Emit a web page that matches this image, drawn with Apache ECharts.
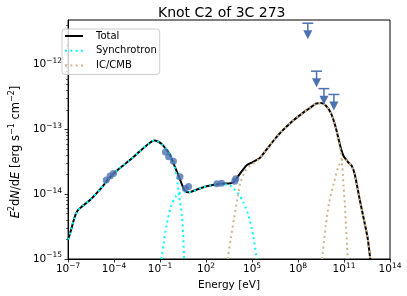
<!DOCTYPE html>
<html><head><meta charset="utf-8">
<script src="https://cdn.jsdelivr.net/npm/echarts@6/dist/echarts.min.js"></script>
<style>html,body{margin:0;padding:0;background:#fff}#c{width:407px;height:296px}</style>
</head><body><div id="c"></div>
<script>
// ---- values (energy in eV, E^2 dN/dE in erg s^-1 cm^-2) ----
const totalEnergy = [1.0e-7, 1.62e-7, 2.63e-7, 4.27e-7, 9.12e-7, 2.95e-6, 1.26e-5, 5.37e-5, 2.29e-4, 9.77e-4, 4.17e-3, 1.78e-2, 4.27e-2, 7.59e-2, 0.123, 0.204, 0.417, 0.871, 1.78, 2.88, 4.47, 6.92, 14.1, 52.5, 224, 955, 4.07e3, 6.61e3, 1.10e4, 2.24e4, 4.68e4, 1.20e5, 3.24e5, 6.61e5, 4.57e6, 3.16e7, 2.19e8, 5.89e8, 1.51e9, 3.16e9, 6.46e9, 1.35e10, 2.75e10, 5.75e10, 9.33e10, 1.95e11, 3.16e11, 5.01e11, 1.05e12, 2.19e12, 3.55e12, 5.13e12];
const totalFlux = [2.0e-15, 2.88e-15, 4.37e-15, 5.62e-15, 6.61e-15, 8.32e-15, 1.20e-14, 1.82e-14, 2.51e-14, 3.31e-14, 4.47e-14, 6.03e-14, 6.76e-14, 6.46e-14, 6.03e-14, 5.25e-14, 4.17e-14, 2.75e-14, 1.82e-14, 1.35e-14, 1.12e-14, 1.07e-14, 1.12e-14, 1.26e-14, 1.38e-14, 1.45e-14, 1.48e-14, 1.55e-14, 1.82e-14, 2.29e-14, 2.82e-14, 3.16e-14, 3.63e-14, 4.47e-14, 7.94e-14, 1.26e-13, 1.82e-13, 2.14e-13, 2.51e-13, 2.57e-13, 2.34e-13, 1.82e-13, 1.12e-13, 5.50e-14, 3.89e-14, 3.09e-14, 2.75e-14, 2.04e-14, 8.32e-15, 3.63e-15, 2.04e-15, 1.0e-15];

const sync1Energy = [1.0e-7, 1.62e-7, 2.63e-7, 4.27e-7, 9.12e-7, 2.95e-6, 1.26e-5, 5.37e-5, 2.29e-4, 9.77e-4, 4.17e-3, 1.78e-2, 4.27e-2, 7.59e-2, 0.123, 0.204, 0.417, 0.871, 1.23, 1.78, 2.63, 3.24, 3.72];
const sync1Flux = [2.0e-15, 2.88e-15, 4.37e-15, 5.62e-15, 6.61e-15, 8.32e-15, 1.20e-14, 1.82e-14, 2.51e-14, 3.31e-14, 4.47e-14, 6.03e-14, 6.76e-14, 6.46e-14, 6.03e-14, 5.25e-14, 4.17e-14, 2.69e-14, 1.78e-14, 9.33e-15, 4.68e-15, 2.40e-15, 1.0e-15];

const sync2Energy = [0.123, 0.170, 0.257, 0.525, 1.10, 2.24, 4.47, 6.92, 14.1, 52.5, 224, 955, 2.51e3, 4.07e3, 6.61e3, 1.10e4, 2.82e4, 5.89e4, 1.20e5, 2.0e5];
const sync2Flux = [1.0e-15, 1.70e-15, 3.24e-15, 6.61e-15, 9.33e-15, 1.07e-14, 1.10e-14, 1.07e-14, 1.12e-14, 1.26e-14, 1.38e-14, 1.45e-14, 1.41e-14, 1.35e-14, 1.20e-14, 1.07e-14, 7.41e-15, 4.68e-15, 2.29e-15, 1.0e-15];

const ic1Energy = [2.57e3, 4.07e3, 6.61e3, 1.10e4, 1.74e4, 3.63e4, 7.59e4, 2.0e5, 3.24e5, 6.61e5, 4.57e6, 3.16e7, 2.19e8, 5.89e8, 1.51e9, 3.16e9, 6.46e9, 1.35e10, 2.75e10, 5.75e10, 7.76e10, 9.33e10, 1.15e11, 1.35e11, 1.58e11, 1.74e11];
const ic1Flux = [1.0e-15, 2.04e-15, 4.17e-15, 8.32e-15, 1.51e-14, 2.29e-14, 2.75e-14, 3.24e-14, 3.63e-14, 4.47e-14, 7.94e-14, 1.26e-13, 1.82e-13, 2.14e-13, 2.51e-13, 2.57e-13, 2.34e-13, 1.82e-13, 1.12e-13, 4.9e-14, 2.63e-14, 1.35e-14, 6.61e-15, 3.24e-15, 1.58e-15, 1.0e-15];

const ic2Energy = [3.72e9, 6.46e9, 1.07e10, 2.19e10, 4.57e10, 9.33e10, 1.95e11, 3.16e11, 5.01e11, 1.05e12, 2.19e12, 3.55e12, 5.13e12];
const ic2Flux = [1.0e-15, 3.24e-15, 7.41e-15, 1.51e-14, 2.75e-14, 3.55e-14, 3.09e-14, 2.75e-14, 2.04e-14, 8.32e-15, 3.63e-15, 2.04e-15, 1.0e-15];

const obsEnergy = [3.09e-5, 5.50e-5, 9.12e-5, 0.224, 0.363, 0.741, 2.0, 4.47, 7.24, 513, 1.02e3, 7.41e3, 8.71e3];
const obsFlux = [1.66e-14, 1.91e-14, 2.09e-14, 4.47e-14, 3.80e-14, 3.24e-14, 1.86e-14, 1.23e-14, 1.32e-14, 1.45e-14, 1.48e-14, 1.58e-14, 1.74e-14];

const ulEnergy = [4.37e8, 1.62e9, 4.90e9, 2.19e10];
const ulFlux = [4.37e-12, 7.94e-13, 4.27e-13, 3.47e-13];

const xTickExponents = [-7, -4, -1, 2, 5, 8, 11, 14];
const yTickExponents = [-15, -14, -13, -12];
const minorTickMultipliers = [2, 3, 4, 5, 6, 7, 8, 9];

// ---- build ----
const FONT = 'DejaVu Sans';
const BLUE = '#4C72B0';
const CYAN = '#00FFFF';
const TAN = '#D2B48C';
const X_MIN = -7, X_MAX = 14, Y_MIN = -15, Y_MAX = -11.31;
const lg = Math.log10;
const toPairs = (E, F) => E.map((e, i) => [lg(e), lg(F[i])]);

const minorVals = [];
yTickExponents.forEach(n => minorTickMultipliers.forEach(k => {
  const v = lg(k) + n;
  if (v > Y_MIN && v < Y_MAX) minorVals.push(v);
}));

const expRich = {
  b: {fontSize: 10.5, fontFamily: FONT, color: '#000', lineHeight: 15},
  s: {fontSize: 7.5, fontFamily: FONT, color: '#000', lineHeight: 9, verticalAlign: 'top'}
};
const expFmt = v => '{b|10}{s|' + (v < 0 ? '\u2212' : '') + Math.abs(Math.round(v)) + '}';

const dotted = [2, 3.3];
const solidIcon = 'path://M0 0H18V2H0Z';
const dotIcon = 'path://M0 0H2V2H0Z M5.3 0H7.3V2H5.3Z M10.6 0H12.6V2H10.6Z M15.9 0H17.9V2H15.9Z';

const chart = echarts.init(document.getElementById('c'), null, {renderer: 'canvas'});
chart.setOption({
  animation: false,
  backgroundColor: '#fff',
  title: {
    text: 'Knot C2 of 3C 273', left: 153, top: 1,
    textStyle: {fontFamily: FONT, fontSize: 14, fontWeight: 'normal', color: '#000'}
  },
  grid: {left: 57, right: 17, top: 20, bottom: 36, show: true, borderColor: '#000', borderWidth: 1, backgroundColor: 'transparent'},
  legend: {
    orient: 'vertical', left: 62, top: 29,
    itemWidth: 18, itemHeight: 8, itemGap: 4.7,
    padding: [2, 3, 4, 3],
    borderColor: '#cccccc', borderWidth: 1, borderRadius: 3,
    backgroundColor: 'rgba(255,255,255,0.8)',
    textStyle: {fontFamily: FONT, fontSize: 10, color: '#000', lineHeight: 10, padding: [0, 0, 0, 8]},
    data: [
      {name: 'Total', icon: solidIcon, itemStyle: {color: '#000', borderWidth: 0}},
      {name: 'Synchrotron', icon: dotIcon, itemStyle: {color: CYAN, borderWidth: 0}},
      {name: 'IC/CMB', icon: dotIcon, itemStyle: {color: TAN, borderWidth: 0}}
    ]
  },
  xAxis: {
    type: 'value', min: X_MIN, max: X_MAX, interval: 3,
    name: 'Energy [eV]', nameLocation: 'middle', nameGap: 21,
    nameTextStyle: {fontFamily: FONT, fontSize: 10.5, color: '#000'},
    axisLine: {show: true, onZero: false, lineStyle: {color: '#000', width: 1}},
    axisTick: {show: true, length: 3.5, customValues: xTickExponents, lineStyle: {color: '#000', width: 0.8}},
    axisLabel: {customValues: xTickExponents, formatter: expFmt, rich: expRich, margin: 3, color: '#000'},
    splitLine: {show: false}
  },
  yAxis: [{
    type: 'value', min: Y_MIN, max: Y_MAX, interval: 1,
    name: '{i|E}{s|2}{n|d}{i|N}{n|/d}{i|E}{n| [erg s}{s|\u22121}{n| cm}{s|\u22122}{n|]}',
    nameLocation: 'middle', nameRotate: 90, nameGap: 38,
    nameTextStyle: {
      fontFamily: FONT, fontSize: 11.5, color: '#000', padding: [0, 25, 0, 0],
      rich: {
        n: {fontFamily: FONT, fontSize: 11.5, color: '#000', lineHeight: 16},
        i: {fontFamily: FONT, fontSize: 11.5, fontStyle: 'italic', color: '#000', lineHeight: 16},
        s: {fontFamily: FONT, fontSize: 8, color: '#000', lineHeight: 9, verticalAlign: 'top'}
      }
    },
    axisLine: {show: true, onZero: false, lineStyle: {color: '#000', width: 1}},
    axisTick: {show: true, length: 3.5, customValues: yTickExponents, lineStyle: {color: '#000', width: 0.8}},
    axisLabel: {customValues: yTickExponents, formatter: expFmt, rich: expRich, margin: 6, color: '#000'},
    splitLine: {show: false}
  }, {
    type: 'value', min: Y_MIN, max: Y_MAX, position: 'left', offset: 0,
    axisLine: {show: false, onZero: false},
    axisTick: {show: true, length: 2, customValues: minorVals, lineStyle: {color: '#000', width: 0.6}},
    axisLabel: {show: false},
    splitLine: {show: false}
  }],
  series: [
    {type: 'line', name: 'Total', data: toPairs(totalEnergy, totalFlux), symbol: 'none', smooth: 0.25,
     lineStyle: {color: '#000', width: 2}, itemStyle: {color: '#000'}, z: 2},
    {type: 'line', name: 'Synchrotron', data: toPairs(sync1Energy, sync1Flux), symbol: 'none', smooth: 0.25,
     lineStyle: {color: CYAN, width: 2, type: dotted, cap: 'butt'}, itemStyle: {color: CYAN}, z: 3},
    {type: 'line', name: 'Synchrotron', data: toPairs(sync2Energy, sync2Flux), symbol: 'none', smooth: 0.25,
     lineStyle: {color: CYAN, width: 2, type: dotted, cap: 'butt'}, itemStyle: {color: CYAN}, z: 3},
    {type: 'line', name: 'IC/CMB', data: toPairs(ic1Energy, ic1Flux), symbol: 'none', smooth: 0.25,
     lineStyle: {color: TAN, width: 2, type: dotted, cap: 'butt'}, itemStyle: {color: TAN}, z: 4},
    {type: 'line', name: 'IC/CMB', data: toPairs(ic2Energy, ic2Flux), symbol: 'none', smooth: 0.25,
     lineStyle: {color: TAN, width: 2, type: dotted, cap: 'butt'}, itemStyle: {color: TAN}, z: 4},
    {type: 'scatter', name: 'data', data: toPairs(obsEnergy, obsFlux), symbol: 'circle', symbolSize: 7,
     itemStyle: {color: BLUE}, z: 6},
    {type: 'custom', name: 'upper limits', data: toPairs(ulEnergy, ulFlux), z: 6,
     renderItem: (params, api) => {
       const p = api.coord([api.value(0), api.value(1)]);
       const x = p[0], y = p[1];
       return {
         type: 'group', children: [
           {type: 'line', shape: {x1: x - 5.5, y1: y, x2: x + 5.5, y2: y}, style: {stroke: BLUE, lineWidth: 1.5}},
           {type: 'line', shape: {x1: x, y1: y, x2: x, y2: y + 8}, style: {stroke: BLUE, lineWidth: 1.5}},
           {type: 'polygon', shape: {points: [[x - 4.5, y + 7], [x + 4.5, y + 7], [x, y + 16]]}, style: {fill: BLUE}}
         ]
       };
     }}
  ]
});
</script></body></html>
